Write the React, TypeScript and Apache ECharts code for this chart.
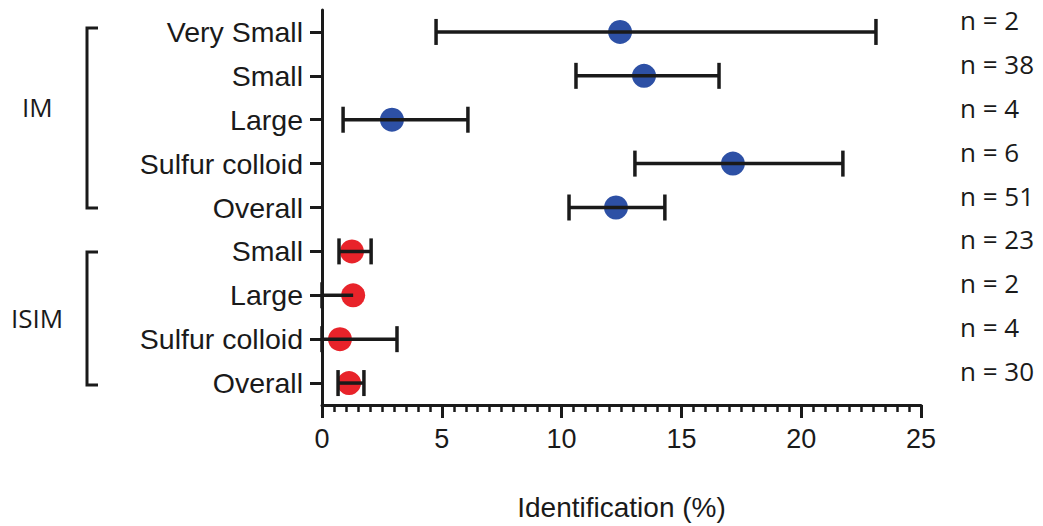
import React, { useEffect, useRef } from "react";
import * as echarts from "echarts";

const categories = ["Very Small", "Small", "Large", "Sulfur colloid", "Overall", "Small", "Large", "Sulfur colloid", "Overall"];
const groupOf = ["IM", "IM", "IM", "IM", "IM", "ISIM", "ISIM", "ISIM", "ISIM"];
const means = [12.44, 13.44, 2.92, 17.15, 12.27, 1.25, 1.3, 0.75, 1.13];
const lows = [4.76, 10.6, 0.88, 13.06, 10.31, 0.71, 0, 0, 0.67];
const highs = [23.12, 16.57, 6.09, 21.74, 14.31, 2.05, 1.3, 3.13, 1.75];
const nLabels = ["n = 2", "n = 38", "n = 4", "n = 6", "n = 51", "n = 23", "n = 2", "n = 4", "n = 30"];
const xTicks = { min: 0, max: 25, interval: 5 };
const groupColors: Record<string, string> = { IM: "#2D50A5", ISIM: "#E8232A" };

export default function App() {
  const ref = useRef<HTMLDivElement>(null);
  useEffect(() => {
    if (!ref.current) return;
    const chart = echarts.init(ref.current, undefined, { renderer: "svg" });
    const ink = "#1a1a1a";
    const imData: any[] = [];
    const isimData: any[] = [];
    means.forEach((m, i) => {
      (groupOf[i] === "IM" ? imData : isimData).push([m, i]);
    });
    const errData = categories.map((_, i) => [i, lows[i], highs[i], means[i]]);
    chart.setOption({
      animation: false,
      grid: { left: 322, right: 122, top: 10, height: 397 },
      xAxis: {
        type: "value",
        min: xTicks.min,
        max: xTicks.max,
        interval: xTicks.interval,
        name: "Identification (%)",
        nameLocation: "middle",
        nameGap: 88,
        nameTextStyle: { fontFamily: "Liberation Sans", fontSize: 28, color: ink },
        axisLine: { show: true, lineStyle: { color: ink, width: 3 } },
        axisTick: { show: true, length: 13, lineStyle: { color: ink, width: 3 } },
        minorTick: { show: true, splitNumber: 10, length: 7, lineStyle: { color: ink, width: 2.5 } },
        splitLine: { show: false },
        axisLabel: { fontFamily: "Liberation Sans", fontSize: 27, color: ink, margin: 20 },
      },
      yAxis: [
        {
          type: "category",
          data: categories,
          inverse: true,
          axisLine: { show: true, lineStyle: { color: ink, width: 3 } },
          axisTick: { show: true, alignWithLabel: true, length: 12, lineStyle: { color: ink, width: 3 } },
          axisLabel: { fontFamily: "Liberation Sans", fontSize: 28.5, color: ink, margin: 19 },
          splitLine: { show: false },
        },
        {
          type: "category",
          data: nLabels,
          inverse: true,
          position: "right",
          offset: 39,
          axisLine: { show: false },
          axisTick: { show: false },
          splitLine: { show: false },
          axisLabel: {
            fontFamily: "Open Sans",
            fontSize: 26,
            color: ink,
            margin: 0,
            align: "left",
            verticalAlign: "bottom",
            lineHeight: 24,
          },
        },
      ],
      series: [
        {
          type: "scatter",
          yAxisIndex: 0,
          data: imData,
          symbolSize: 24,
          itemStyle: { color: groupColors.IM, opacity: 1 },
          z: 2,
        },
        {
          type: "scatter",
          yAxisIndex: 0,
          data: isimData,
          symbolSize: 24,
          itemStyle: { color: groupColors.ISIM, opacity: 1 },
          z: 2,
        },
        {
          type: "custom",
          yAxisIndex: 0,
          data: errData,
          encode: { x: [1, 2], y: 0 },
          z: 3,
          renderItem: (params: any, api: any) => {
            const c = api.value(0);
            const lo = api.coord([api.value(1), c]);
            const hi = api.coord([api.value(2), c]);
            const mean = api.value(3);
            const h = 13;
            const style = { stroke: ink, lineWidth: 3.5 };
            const children: any[] = [
              { type: "line", shape: { x1: lo[0], y1: lo[1], x2: hi[0], y2: hi[1] }, style },
            ];
            if (api.value(1) < mean) {
              children.push({ type: "line", shape: { x1: lo[0], y1: lo[1] - h, x2: lo[0], y2: lo[1] + h }, style });
            }
            if (api.value(2) > mean) {
              children.push({ type: "line", shape: { x1: hi[0], y1: hi[1] - h, x2: hi[0], y2: hi[1] + h }, style });
            }
            return { type: "group", children };
          },
        },
      ],
      graphic: [
        {
          type: "polyline",
          shape: { points: [[98, 28], [87, 28], [87, 208], [98, 208]] },
          style: { stroke: ink, lineWidth: 3, fill: "none" },
        },
        {
          type: "polyline",
          shape: { points: [[98, 252], [87, 252], [87, 385], [98, 385]] },
          style: { stroke: ink, lineWidth: 3, fill: "none" },
        },
        {
          type: "text",
          x: 22,
          y: 107,
          style: { text: "IM", fontFamily: "Open Sans", fontSize: 26, fill: ink, verticalAlign: "middle" },
        },
        {
          type: "text",
          x: 11,
          y: 318,
          style: { text: "ISIM", fontFamily: "Open Sans", fontSize: 26, fill: ink, verticalAlign: "middle" },
        },
      ],
    });
    return () => chart.dispose();
  }, []);
  return (
    <div
      ref={ref}
      style={{ position: "fixed", left: 0, top: 0, width: 1043, height: 526, background: "#fff" }}
    />
  );
}
